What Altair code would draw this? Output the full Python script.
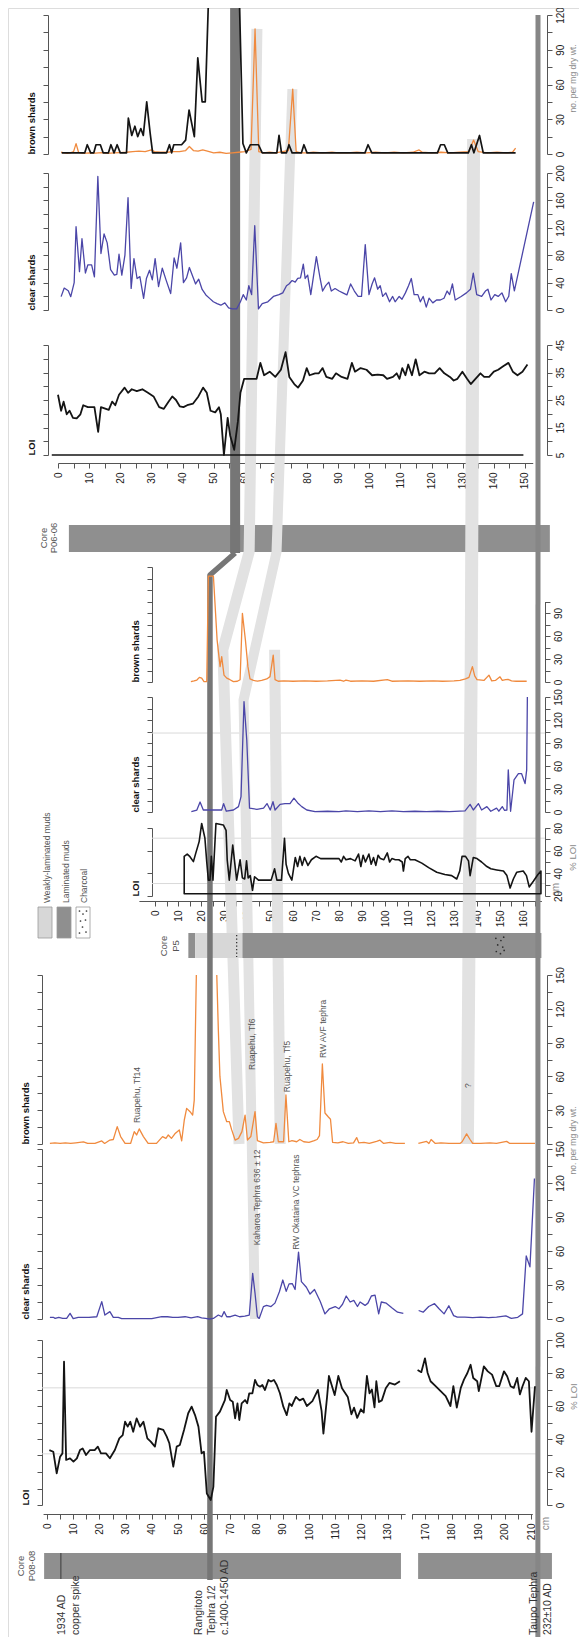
import json
import altair as alt
import pandas as pd

# ============================ DATA (depth cm, value) ============================
# ---- Core P06-06 ----
P06_BROWN = [(1,1.5),(2,1),(3,0.5),(4,1),(5,2),(5.8,9),(6.6,1.5),(8,0.5),(10,1),(12,0.8),(14,1.2),(16,0.5),(18,1),(20,1.2),(22,1.5),(24,2),(26,2.5),(28,2),(30,3.5),(31,2),(33,1.5),(35,1.5),(37,2),(39,2),(41,3),(42.2,6.5),(43.5,3),(45,2.5),(46.5,3.5),(48,2.5),(50,1),(52,1.5),(54,0.5),(56,1),(58,1.5),(60,2),(62,4),(63.3,108),(64.5,2),(66,1),(68,1.5),(70,1),(72,2),(74,3),(75.4,56),(76.5,2),(78,1),(80,1),(82,1.5),(85,1),(88,1.5),(90,1),(93,1),(96,1.5),(99,1),(102,1.5),(105,1),(108,1.5),(111,1),(114,1.5),(116,3.5),(117,1.5),(120,1),(123,1.5),(126,1),(129,1.5),(132,2),(133.5,12),(135,2),(138,1),(141,1.5),(144,1),(146,1.5),(147,5)]
P06_BLACK_1 = [(1.2,1),(3,1),(5,1),(7,1),(8.6,1),(9.4,8),(10.5,1),(11.5,1),(12.2,8),(13.6,8),(14.5,1),(16.2,1),(17,8),(18,1),(19,8),(20,1),(22,1),(22.6,31),(23.7,16),(24.7,24),(25.6,15),(26.6,22),(27.4,16),(28.5,45),(29.6,18),(30.4,1),(33,1),(34.9,1),(35.8,8),(36.5,1),(37.2,8),(39.7,8),(41,12),(42.1,38),(43.8,15),(44.9,83),(46.3,45),(47.3,45),(48.3,130)]
P06_BLACK_2 = [(58.3,130),(59.4,9),(60.5,1),(61.8,8),(64.4,8),(65.6,1),(70.3,1),(71,16),(71.8,1),(73.4,1),(74.2,8),(75.2,1),(78.2,1),(79,8),(80,1),(98.6,1),(99.6,8),(100.8,1),(121.9,1),(122.9,8),(124.1,8),(125.2,1),(131.8,1),(132.8,8),(133.6,1),(135.4,16),(136.6,1),(147,1)]
P06_CLEAR = [(1.0,19.5),(2.0,32),(3.3,28),(4.1,19.5),(5.2,40),(5.8,121.6),(6.9,56),(7.7,104),(8.8,54),(9.6,66),(10.8,66),(11.7,48.5),(12.8,195),(13.8,82.5),(14.8,111),(15.8,98),(16.9,59),(18.1,51),(18.9,52),(19.6,81.4),(20.5,51),(21.5,80),(22.5,164),(23.5,31.6),(24.4,75),(25.4,46),(26.3,48.7),(27.5,17),(28.4,46),(29.4,58),(30.3,44),(31.2,75),(32.3,34),(33.5,61),(34.7,44),(36.2,24),(37.3,76),(38.2,61),(39.4,98),(40.3,40),(41.3,47),(42.2,62),(43.2,50),(44.2,38),(45.2,45),(46.3,30),(47.5,22),(48.7,17),(49.9,12),(51.1,9.4),(52.3,7),(53.6,10.4),(54.8,3),(56,1.6),(57.4,1.6),(58.6,12),(59.5,22.4),(60.5,14.6),(61.3,35.5),(62.2,22.4),(63.2,123),(64.4,1.6),(65.6,9.4),(67.4,12),(69.2,19.8),(71,22.4),(72.2,25),(73.4,35.5),(74.2,38),(75.2,43),(76.2,40.7),(77,46),(77.9,47),(78.8,67),(79.4,46),(80.2,51),(81.2,22.4),(83,78),(84.2,46),(85,27.7),(86,35.5),(87,40.7),(87.8,27.7),(89,31.3),(90.3,27.7),(91.5,25),(92.8,22),(94,38),(95.2,27.7),(96.4,19.8),(97.5,19.8),(98.7,95.5),(99.9,22.4),(100.9,38),(101.7,47),(102.7,30.3),(103.5,35.5),(104.3,19.8),(105.3,25),(106.5,12),(107.5,19.8),(108.3,12),(109.6,19.8),(110.5,15.7),(111.6,25),(112.6,35.5),(113.5,46),(114.4,22.4),(115.6,22.4),(116.4,12),(117.3,19.8),(118.3,4.2),(119.2,17.2),(120.4,10.4),(121.6,14.6),(122.8,14.6),(124,17.2),(125,27.7),(125.8,22.4),(126.7,38),(127.6,14.6),(129.5,19.8),(131.2,25),(132.5,30.3),(133.4,53.8),(134.5,22.4),(136.1,19.8),(137.3,27.7),(138.1,30.3),(139.1,14.6),(140.3,22.4),(141.4,19.8),(142.6,25),(143.8,12),(144.8,20),(145.6,53),(146.6,28),(152.8,158)]
P06_LOI = [(0.0,26.9),(1.0,21.1),(1.8,24.4),(2.8,19.8),(3.7,21.1),(4.8,18.5),(6.0,18.3),(7.2,19.8),(8.1,23.1),(9.6,22.4),(11.7,22.4),(12.9,13.4),(13.8,22.4),(16.3,21.4),(17.4,24.4),(18.4,23.1),(19.6,26.9),(21.4,29.5),(22.5,27.6),(23.7,28.9),(25.3,28.2),(27.1,28.9),(28.9,27.6),(30.7,26.3),(32.5,22.4),(34.0,21.8),(35.5,24.4),(36.7,26.3),(37.9,25),(39.1,22.7),(40.3,22.4),(41.5,23.1),(43.4,23.7),(45.1,26.3),(46.6,29.5),(47.8,27.6),(49.0,21.1),(50.5,20.5),(51.7,22.4),(52.3,19.8),(53.3,5),(54.5,18.5),(55.3,12.1),(56.6,6.9),(57.8,17.3),(58.6,27.6),(59.8,32.7),(61.9,32.7),(63.8,32.7),(65.0,38.5),(66.2,34),(68.0,35.3),(69.8,33.4),(71.6,36),(73.1,42.4),(74.3,33.4),(75.9,30.8),(77.1,29.5),(78.7,32.1),(79.9,36.6),(80.8,34),(82.6,34.7),(83.8,34.7),(85.0,36.6),(86.2,33.4),(88.1,32.7),(89.3,34.7),(91.1,33.4),(93.0,32.7),(94.4,38.5),(95.4,35.3),(97.2,36.6),(99.1,36),(100.9,34),(102.7,34.2),(104.5,34),(105.7,32.7),(107.6,33.4),(108.8,34.7),(109.7,32.7),(110.6,36.6),(111.6,34),(112.5,37.9),(113.7,34),(114.9,39.8),(116.1,34),(117.7,35.3),(119.2,34.7),(121.0,34.7),(122.6,36.6),(124.1,34.7),(125.9,33.4),(127.1,32.1),(128.3,32.7),(129.9,35.3),(131.4,32.7),(132.6,30.8),(134.1,32.7),(135.7,34.7),(136.9,33.4),(138.5,33.4),(140.0,35.3),(141.4,36),(143.0,37.3),(144.7,38.5),(146.1,35.3),(147.6,34),(149.2,35.3),(150.8,37.9)]
P06_LOI_BASE = [(-2, 149.5, 5)]

# ---- Core P5 ----
P5_BROWN = [(15.6,0.5),(17,1.5),(18.2,2.6),(19.3,6),(20.3,5),(21.3,0.5),(22.5,0.5),(23.2,138),(25.4,138),(27,55),(28.3,20),(29,33),(30,9),(31.2,5),(32.6,3),(34.1,0.5),(35.8,1),(37,3),(38,89.5),(39.3,55),(40.4,20),(41.3,4),(42.8,2),(44.6,1),(46.4,2),(48.6,4),(50,7),(51.4,35),(52.2,3),(53.6,1),(56,1.5),(60,1),(65,1.5),(70,1),(75,1.5),(80.4,2.5),(82,1),(83,2.5),(85,1),(90,1.5),(95,1),(101,3),(103,1),(110,1.5),(115,1),(121,1.5),(125,1),(130,1.5),(132.6,2),(135,4),(136.5,6),(138,20),(139,8),(140,3),(143,2),(145.2,9),(146.4,1.5),(148,2),(150,6.8),(151,2),(152.5,3),(153.5,3.5),(155,1.5),(157,1),(161.6,1)]
P5_CLEAR = [(15.8,0.5),(18.2,2.6),(19.6,13),(21,2.6),(24,2.6),(29,2.6),(29.8,11),(31,1),(34.1,2.6),(36.3,7),(37.4,20),(38.7,144),(39.9,94),(41.1,5),(44.3,3.5),(47.2,5),(48.7,11),(50.1,2.6),(51.3,13.4),(52.2,2.6),(54.4,10),(56.5,11),(58.7,11),(60.4,18),(62.3,11),(63.8,7),(66,2.6),(69.6,0.5),(75,1),(80,0.5),(83,1.5),(88,0.5),(93,1.5),(98,0.5),(103,1.5),(108,0.5),(113,1),(118,0.5),(123,1),(128,0.5),(134.8,1.5),(137,10),(138.4,2.6),(140.6,11),(142,2.6),(144.3,7),(146,1),(148.5,5),(149.5,1),(151,7),(152,2),(153,2.6),(153.6,55),(154.6,1),(156.1,42),(158,50),(159.4,50),(160.9,37),(161.6,55),(161.9,150)]
P5_LOI = [(12.7,55),(14,57),(15.2,54.7),(16.7,50.3),(17.7,57.6),(19.2,68),(20.3,84),(21.7,71),(22.5,50),(23.2,34),(23.9,34),(24.5,55),(25.2,34),(26.5,84),(29.7,82.7),(30.9,78),(31.4,51.8),(32.3,34),(33.8,65),(35.5,34),(37,52),(38,36),(39,35),(39.8,51),(40.5,36),(41.4,38),(42.4,25),(43.3,37),(45,34),(47,34),(49,34),(50.5,34),(52,44),(53,34),(55,34),(56.3,71),(57,48),(58,40),(59.5,34),(61,54),(62,46),(63,55),(64,47),(65,54),(66.5,47),(68,52),(70,55),(72,53),(74,53),(76,53),(78,53),(80,53),(81,50),(82,55),(83,52),(85,53),(87,51),(88.5,57),(89.5,46),(90.5,56),(91.5,50),(93,57),(94,48),(95,54),(96,47),(97,56),(98,53),(99.5,52),(101,58),(102,50),(103,53),(104.5,52),(106,52),(107.5,50),(108,42),(108.8,53),(110,55),(111,52),(113,52),(116,49),(119,45),(122.5,41),(126,39),(129,38),(131.2,35),(132.5,42),(133.5,55),(135,55),(136.3,51),(137,38),(138.4,54),(140,53),(142,50),(144.3,46),(146,44),(148.6,43),(151.5,42),(153,38),(154.4,27),(155.8,35),(157.3,41),(160.1,42),(161.5,38),(162.7,28),(164.5,33),(166.5,39),(167.8,42)]
P5_LOI_BASE = 22

# ---- Core P08-08 (axis broken between 136 and 165 cm) ----
P08_BROWN_1 = [(1.1,0.5),(3,1),(5,0.5),(7,1),(9,0.5),(11,1),(13.9,1.8),(15.5,0.5),(18.3,0.5),(20.9,2.7),(22,0.5),(24,3.5),(25.3,4),(26.8,15.4),(28.1,6.6),(29.8,0.5),(31.9,0.5),(33.3,11),(34.2,8),(35.2,13.4),(36.8,6.6),(38.6,0.5),(41.8,0.5),(44.1,6.6),(45.4,5),(46.3,8),(47.5,5),(48.8,9),(50.5,12.5),(51.4,2.7),(52.4,21.3),(53.3,31.6),(54.6,28.7),(55.6,25.7),(56.2,39),(57.0,150)]
P08_BROWN_2 = [(64.8,150),(65.4,101),(66,60),(67.3,28.7),(68.6,19.8),(69.6,19.8),(70.5,12.5),(71.8,3.5),(73.1,5),(74.4,11),(75.6,25.7),(76.5,3.5),(77.8,6.6),(79.4,28.7),(80.3,3),(82.6,1),(85.1,1.5),(86.5,2),(87.4,18.3),(88.3,2),(90.3,2),(91.2,43.5),(92.3,2),(93.5,3),(95.3,2),(96.5,4),(98,2),(100,1.5),(102,3),(103.1,4),(104,7.4),(105.1,71),(106.1,27.5),(107.4,24),(108.2,22),(109,1.5),(111,1),(113,2),(115,0.5),(117,1),(118.2,5.7),(119,1),(121,1.5),(123,0.5),(125.8,2.3),(127.1,3.4),(128.5,0.5),(131,1.5),(133,0.5),(136.6,0.5)]
P08_BROWN_3 = [(167.5,0.5),(170.6,2.3),(171.5,0.5),(172.3,4),(173.9,0.5),(176,1),(179,0.5),(183.2,0.5),(184,2),(185.7,9),(187,4),(188,0.5),(191,0.5),(194.5,1),(197,0.5),(200.8,2.3),(202,0.5),(206,0.5),(211.5,0.5)]
P08_CLEAR_1 = [(1.1,1.5),(2.4,1.5),(3.1,0.6),(4.5,1.5),(6,0.6),(7.5,0.6),(8.8,5),(10,0.3),(11.9,1.5),(14,1.5),(16,1.5),(19,2),(20.9,15.3),(22.1,3.5),(24,6.5),(25.3,1.5),(27.2,1.5),(28.5,0.3),(32.9,0.3),(36,0.3),(40,0.3),(43.8,2),(46,2),(48,1.5),(50,1.5),(52.7,2),(55,1),(57.5,2),(59,1),(60.5,0.5),(62,0),(63.5,0.5),(65.4,3.5),(66.7,2),(67.6,6.5),(68.6,2),(70,2),(71.8,3.5),(73.5,2),(75.5,2.5),(77.2,3.5),(78.5,40.3),(79.4,22.7),(80.3,2),(81,0.5),(82.6,10.9),(83.8,12),(85.5,11),(87,14),(88.7,24),(90,34.4),(91.3,24.4),(92.4,31),(93.6,31.3),(94.7,26),(96,59),(97.1,33),(99,28),(100.4,22),(102.1,26),(104.3,15.4),(106.1,4.5),(107.8,9),(110,11),(111.4,9),(112.8,13),(114.2,20.3),(115.7,15),(117.1,16.5),(118.5,11),(119.5,15),(121.4,12),(122.5,14),(123.8,20.3),(125.2,21),(126.6,4.5),(127.6,15),(129.5,14),(131.6,10),(133.8,6),(136,5)]
P08_CLEAR_2 = [(167.6,7.5),(169.3,6),(171.4,11),(173.6,13.5),(175.3,9),(177.2,4.5),(179,11.7),(180.8,3),(182.2,1.6),(185,1.6),(188,1.2),(191,1.6),(194,1.2),(197,1.6),(200.5,2.7),(202.6,0.5),(205,1.5),(206.8,4.5),(208.2,55.6),(209.6,46),(211.3,124)]
P08_LOI_1 = [(0.9,33.3),(2.4,32.3),(3.7,19.2),(5,29.3),(5.9,31.3),(6.5,86.9),(7.3,27.3),(8.8,28.3),(10.1,26.3),(11.4,28.3),(12.6,33.3),(13.6,34.3),(14.9,30.3),(16.4,33.3),(18.2,33.3),(19.4,35.4),(20.6,31.3),(22.5,31.3),(24,28.3),(25.9,33.3),(27.6,40.4),(28.9,42.4),(29.8,50.5),(30.8,47.5),(31.8,50.5),(32.9,44.4),(34.2,52.5),(35.5,47.5),(36.8,50.5),(38.3,40.4),(39.6,38.4),(41.2,35.4),(42.5,46.5),(44.4,45.5),(45.7,41.4),(46.7,37.4),(48.2,23.2),(49.5,35.4),(50.7,36.4),(52.3,45.5),(53.9,55.6),(55.2,59.6),(56.5,54.5),(57.8,47.5),(59,31.3),(59.9,32.3),(61,7),(62.5,3),(63.5,11),(64.5,53.5),(66,56.6),(67.9,63.6),(68.6,69.7),(69.9,63.6),(70.9,62.6),(71.8,52.5),(72.7,61.6),(73.4,51.5),(74.3,61.6),(75.6,63.6),(76.4,61.6),(77.2,67.7),(78.4,67.7),(79.4,75.8),(80.3,72.7),(81.3,71.7),(82.2,72.7),(83.2,69.7),(84.5,75.8),(85.5,74.8),(86.6,75.8),(87.7,72.7),(88.9,67.7),(90.2,59.6),(91.5,54.5),(92.5,61.6),(93.4,60),(95,65.5),(96.4,63.4),(97.8,64.5),(99.2,60),(101.3,63),(103.4,69.8),(104.8,57),(105.5,43.3),(106.9,65.5),(107.6,78.2),(109.8,66.6),(111.2,78.2),(112.6,70.8),(114.8,65.5),(116.2,55),(117.2,59),(118.4,52.8),(119.8,58),(120.9,56),(122.1,78.2),(123.1,67.7),(124,70),(125,59.2),(125.7,75),(126.7,62.4),(127.8,63.4),(129.3,70.8),(130.7,74),(132.8,73),(134.7,75)]
P08_LOI_2 = [(167.2,81.8),(168.6,80.5),(170,88.9),(171,80),(172.1,75),(174,72),(175.9,69),(177.8,66),(179.6,60),(180.7,72),(182,59),(183.5,71),(184.7,76),(186,80),(187.2,85),(188.2,77),(189.7,75),(190.3,69),(192.2,84),(193.7,81),(195.3,79),(196.9,72),(198,72),(199.8,81),(201,78),(202.3,72),(203.5,71),(204.8,77),(205.8,67),(206.8,72),(208,77),(209.2,75),(210.2,44.4),(211.5,72)]

# ---- core lithology (depth from, depth to, fill) ----
P06_CORE = [(3.5, 158, "#8f8f8f")]
P5_CORE = [(14.5, 17.5, "#8f8f8f"), (17.5, 38, "#d7d7d7"), (38, 168, "#8f8f8f")]
P08_CORE_1 = [(-1.1, 135.1, "#8f8f8f")]
P08_CORE_2 = [(167.4, 217.9, "#8f8f8f")]
P5_CHARCOAL = [(148.2, 0.15), (150.4, 0.25), (151.6, 0.1), (149.0, 0.45), (151.2, 0.55), (148.4, 0.75), (150.2, 0.85), (151.8, 0.7)]
COPPER_SPIKE_DEPTH = 5.3   # P08-08, 1934 AD
P5_DOTTED_DEPTH = 35.5

# ---- tephra correlations: (core section, depth, panel, value on that panel) ----
BAND_TF6 = [("A", 63.9, "brownA", 108), ("A", 61.4, "fig", 552), ("B", 29.5, "brownB", 42), ("C1", 73.3, "brownC", 0)]
BAND_KAHAROA = [("A", 75.3, "brownA", 56), ("A", 70.2, "fig", 552), ("B", 38.5, "clearB", 146), ("C1", 79.4, "clearC", 0)]
BAND_TF5 = [("B", 52.0, "brownB", 42), ("C1", 89.0, "brownC", 0)]
BAND_Q = [("A", 133.5, "brownA", 13), ("B", 137.5, "brownB", 30), ("C2", 186.0, "brownC", 0)]
RANGITOTO_TOP = [("A", 56.9, "fig", 0), ("A", 56.9, "fig", 553)]
RANGITOTO_LOW = [("A", 56.9, "fig", 553), ("B", 23.9, "fig", 575), ("C1", 62.2, "fig", 1580)]
TAUPO = [("A", 154.2, "fig", 15), ("C2", 212.6, "fig", 1645)]

TEPHRA_LABELS = [("Ruapehu, Tf14", "C1", 34.4, "brownC", 18.6), ("Ruapehu, Tf6", "C1", 78.2, "brownC", 65.7),
                 ("Ruapehu, Tf5", "C1", 91.6, "brownC", 46), ("RW AVF tephra", "C1", 105.3, "brownC", 76.3),
                 ("?", "C2", 186.2, "brownC", 49.7), ("Kaharoa Tephra 636 \u00b1 12", "C1", 80.2, "clearC", 65),
                 ("RW Okataina VC tephras", "C1", 95.0, "clearC", 61)]

# ============================ LAYOUT ============================
W, H, M = 571, 1629, 8
def P(v):
    return v - M

SECTION = {"A": (0.0, 58.0, 3.113), "B": (0.0, 155.0, 2.3), "C1": (0.0, 47.0, 2.62), "C2": (170.0, 425.0, 2.65)}
def xpage(sec, d):
    d0, p0, k = SECTION[sec]
    return p0 + k * (d - d0)
def xscale(sec, lo, hi):
    return alt.Scale(domain=[lo, hi], range=[P(xpage(sec, lo)), P(xpage(sec, hi))], nice=False, zero=False)
XDOM = {"A": (0, 152.5), "B": (-7, 168), "C1": (-1.5, 136.7), "C2": (165, 210.5)}
SX = {k: xscale(k, *v) for k, v in XDOM.items()}

PANEL = {
    "brownA": (0, 120, 154, 15), "clearA": (0, 200, 310, 173), "loiA": (5, 45, 455, 345),
    "brownB": (0, 150, 682, 567), "brownBr": (0, 105, 682, 601.5), "clearB": (0, 150, 812, 697), "loiB": (20, 80, 896, 828),
    "brownC": (0, 150, 1144, 975), "clearC": (0, 150, 1319, 1149), "loiC": (0, 100, 1505, 1340),
}
def ypage(panel, v):
    v0, v1, y0, y1 = PANEL[panel]
    return y0 + (y1 - y0) * (v - v0) / (v1 - v0)
def yscale(panel):
    v0, v1, y0, y1 = PANEL[panel]
    return alt.Scale(domain=[v0, v1], range=[P(y0), P(y1)], nice=False, zero=False)

FX = alt.Scale(domain=[0, 587], range=[-M, 587 - M], nice=False, zero=False)
FY = alt.Scale(domain=[0, 1645], range=[-M, 1645 - M], nice=False, zero=False)

ORANGE, BLUE, BLACK = "#f08a3e", "#4b46a8", "#141414"
AXC = "#555555"
FONT = "Liberation Sans"

def node_xy(n):
    sec, d, panel, v = n
    return xpage(sec, d), (v if panel == "fig" else ypage(panel, v))

layers = []

# ---------------- light horizontal reference lines ----------------
for panel, vals, xl, xr in [("clearB", [103], 152, 545), ("loiB", [71, 31], 152, 545), ("loiC", [71, 31], 42, 536)]:
    df = pd.DataFrame({"v": vals, "x0": xl, "x1": xr})
    layers.append(alt.Chart(df).mark_rule(color="#d9d9d9", strokeWidth=1).encode(
        x=alt.X("x0:Q", scale=FX, axis=None), x2="x1:Q", y=alt.Y("v:Q", scale=yscale(panel), axis=None)))

# ---------------- core bars ----------------
def bar_layer(rows, sec, y0, y1):
    df = pd.DataFrame(rows, columns=["d0", "d1", "c"])
    df["y0"] = y0
    df["y1"] = y1
    return alt.Chart(df).mark_rect().encode(
        x=alt.X("d0:Q", scale=SX[sec], axis=None), x2="d1:Q",
        y=alt.Y("y0:Q", scale=FY, axis=None), y2="y1:Q",
        color=alt.Color("c:N", scale=None))

layers.append(bar_layer(P06_CORE, "A", 525, 552))

# ---------------- correlation bands ----------------
def path_layer(nodes, color, width, cap="butt"):
    pts = [node_xy(n) for n in nodes]
    df = pd.DataFrame(pts, columns=["x", "y"])
    df["i"] = range(len(df))
    return alt.Chart(df).mark_line(color=color, strokeWidth=width, strokeCap=cap, strokeJoin="round").encode(
        x=alt.X("x:Q", scale=FX, axis=None), y=alt.Y("y:Q", scale=FY, axis=None), order="i:Q")

BAND = "#e2e2e2"
layers.append(path_layer(BAND_TF6, BAND, 11))
layers.append(path_layer(BAND_KAHAROA, BAND, 10))
layers.append(path_layer(BAND_TF5, BAND, 11))
layers.append(path_layer(BAND_Q, BAND, 13))

layers.append(bar_layer(P5_CORE, "B", 933, 958))
layers.append(bar_layer(P08_CORE_1, "C1", 1553, 1579))
layers.append(bar_layer(P08_CORE_2, "C2", 1553, 1579))

# copper spike line and P5 dotted boundary, charcoal
layers.append(alt.Chart(pd.DataFrame({"d": [COPPER_SPIKE_DEPTH], "y0": [1553], "y1": [1579]})).mark_rule(color="#3a3a3a", strokeWidth=1).encode(
    x=alt.X("d:Q", scale=SX["C1"], axis=None), y=alt.Y("y0:Q", scale=FY, axis=None), y2="y1:Q"))
layers.append(alt.Chart(pd.DataFrame({"d": [P5_DOTTED_DEPTH], "y0": [935], "y1": [957]})).mark_rule(color="#333333", strokeWidth=1.3, strokeDash=[1.3, 2.2]).encode(
    x=alt.X("d:Q", scale=SX["B"], axis=None), y=alt.Y("y0:Q", scale=FY, axis=None), y2="y1:Q"))
ch = pd.DataFrame(P5_CHARCOAL, columns=["d", "f"])
ch["y"] = 935 + ch["f"] * 22
layers.append(alt.Chart(ch).mark_circle(color="#2e2e2e", size=3, opacity=1).encode(
    x=alt.X("d:Q", scale=SX["B"], axis=None), y=alt.Y("y:Q", scale=FY, axis=None)))

# ---------------- dated marker horizons ----------------
DARK = "#767676"
layers.append(path_layer(RANGITOTO_TOP, DARK, 10))
layers.append(path_layer(RANGITOTO_LOW, DARK, 5.5))
layers.append(path_layer(TAUPO, "#868686", 5))

# ---------------- legend ----------------
LEGEND_BOXES = [(38, 52, "#d7d7d7"), (57, 71, "#8f8f8f"), (76, 90, "#ffffff")]
lg = pd.DataFrame(LEGEND_BOXES, columns=["x0", "x1", "c"])
lg["y0"] = 907
lg["y1"] = 938
layers.append(alt.Chart(lg).mark_rect(stroke="#9a9a9a", strokeWidth=0.8).encode(
    x=alt.X("x0:Q", scale=FX, axis=None), x2="x1:Q", y=alt.Y("y0:Q", scale=FY, axis=None), y2="y1:Q",
    color=alt.Color("c:N", scale=None)))
lgd = pd.DataFrame({"x": [79.5, 83, 86.5, 80.5, 85.5, 82.5, 79.5, 86], "y": [911, 914, 911, 921, 920, 927, 933, 932]})
layers.append(alt.Chart(lgd).mark_circle(color="#333333", size=3, opacity=1).encode(
    x=alt.X("x:Q", scale=FX, axis=None), y=alt.Y("y:Q", scale=FY, axis=None)))

# ---------------- data series ----------------
def line_layer(points, sec, panel, color, width):
    df = pd.DataFrame(points, columns=["d", "v"])
    df["i"] = range(len(df))
    return alt.Chart(df).mark_line(color=color, strokeWidth=width, strokeJoin="round").encode(
        x=alt.X("d:Q", scale=SX[sec], axis=None), y=alt.Y("v:Q", scale=yscale(panel), axis=None), order="i:Q")

base = pd.DataFrame(P06_LOI_BASE, columns=["d0", "d1", "v"])
layers.append(alt.Chart(base).mark_rule(color=BLACK, strokeWidth=1.3).encode(
    x=alt.X("d0:Q", scale=SX["A"], axis=None), x2="d1:Q", y=alt.Y("v:Q", scale=yscale("loiA"), axis=None)))
layers.append(line_layer(P06_BROWN, "A", "brownA", ORANGE, 1.3))
layers.append(line_layer(P06_BLACK_1, "A", "brownA", BLACK, 1.7))
layers.append(line_layer(P06_BLACK_2, "A", "brownA", BLACK, 1.7))
layers.append(line_layer(P06_CLEAR, "A", "clearA", BLUE, 1.3))
layers.append(line_layer(P06_LOI, "A", "loiA", BLACK, 1.8))

layers.append(line_layer(P5_BROWN, "B", "brownB", ORANGE, 1.3))
layers.append(line_layer(P5_CLEAR, "B", "clearB", BLUE, 1.3))
loib = pd.DataFrame(P5_LOI, columns=["d", "v"])
layers.append(alt.Chart(loib).mark_area(fillOpacity=0, stroke=BLACK, strokeWidth=1.6, strokeJoin="round").encode(
    x=alt.X("d:Q", scale=SX["B"], axis=None), y=alt.Y("v:Q", scale=yscale("loiB"), axis=None),
    y2=alt.datum(P5_LOI_BASE)))

layers.append(line_layer(P08_BROWN_1, "C1", "brownC", ORANGE, 1.3))
layers.append(line_layer(P08_BROWN_2, "C1", "brownC", ORANGE, 1.3))
layers.append(line_layer(P08_BROWN_3, "C2", "brownC", ORANGE, 1.3))
layers.append(line_layer(P08_CLEAR_1, "C1", "clearC", BLUE, 1.3))
layers.append(line_layer(P08_CLEAR_2, "C2", "clearC", BLUE, 1.3))
layers.append(line_layer(P08_LOI_1, "C1", "loiC", BLACK, 1.8))
layers.append(line_layer(P08_LOI_2, "C2", "loiC", BLACK, 1.8))

# ---------------- axes ----------------
def ticks(lo, hi, step):
    out, v = [], lo
    while v <= hi + 1e-9:
        out.append(round(v, 6))
        v += step
    return out

def left_axis(panel, xpg, tk, title):
    return alt.Axis(orient="left", offset=-P(xpg), values=tk, labels=False, tickSize=5, tickColor=AXC,
                    domainColor=AXC, grid=False, title=title, titleAngle=270, titleAlign="left",
                    titleBaseline="bottom", titleX=-12, titleY=P(PANEL[panel][2]), titleFontSize=9.5,
                    titleFontWeight="bold", titleColor="#111111", titleFont=FONT)

def right_axis(xpg, tk, labs, title=None, tx=22, ty=0, tsize=8.5):
    kw = dict(orient="right", offset=P(xpg) - W, values=tk,
              labelExpr="indexof(%s, datum.value) >= 0 ? datum.label : ''" % json.dumps(labs),
              labelAngle=270, labelAlign="center", labelBaseline="top", labelPadding=3, labelFontSize=10,
              labelColor="#222222", labelFlush=False, labelOverlap=False, labelFont=FONT,
              tickSize=5, tickColor=AXC, domainColor=AXC, grid=False)
    if title:
        kw.update(title=title, titleAngle=270, titleAlign="center", titleBaseline="top", titleX=tx,
                  titleY=P(ty), titleFontSize=tsize, titleColor="#8a8a8a", titleFontWeight="normal", titleFont=FONT)
    else:
        kw["title"] = None
    return alt.Axis(**kw)

def depth_axis(ypg, tk, title=None, tx=0, ty=0):
    kw = dict(orient="bottom", offset=P(ypg) - H, values=tk,
              labelExpr="datum.value % 10 == 0 ? datum.label : ''", labelAngle=270, labelAlign="right",
              labelBaseline="middle", labelPadding=4, labelFontSize=10, labelColor="#222222", labelFlush=False,
              labelOverlap=False, labelFont=FONT, tickSize=5, tickColor=AXC, domainColor=AXC, grid=False)
    if title:
        kw.update(title=title, titleAngle=270, titleAlign="center", titleBaseline="middle", titleX=P(tx),
                  titleY=ty, titleFontSize=10, titleColor="#8a8a8a", titleFontWeight="normal", titleFont=FONT)
    else:
        kw["title"] = None
    return alt.Axis(**kw)

def yaxis_layer(panel, axis):
    return alt.Chart(pd.DataFrame({"v": [PANEL[panel][0]]})).mark_point(opacity=0).encode(
        y=alt.Y("v:Q", scale=yscale(panel), axis=axis))

def xaxis_layer(sec, axis):
    return alt.Chart(pd.DataFrame({"d": [XDOM[sec][0]]})).mark_point(opacity=0).encode(
        x=alt.X("d:Q", scale=SX[sec], axis=axis))

# section P06-06
layers.append(yaxis_layer("brownA", left_axis("brownA", 48, ticks(0, 120, 15), "brown shards")))
layers.append(yaxis_layer("clearA", left_axis("clearA", 48, ticks(0, 200, 20), "clear shards")))
layers.append(yaxis_layer("loiA", left_axis("loiA", 48, ticks(5, 45, 5), "LOI")))
layers.append(yaxis_layer("brownA", right_axis(547, ticks(0, 120, 15), [0, 30, 60, 90, 120], "no. per mg dry wt.", 21, 78)))
layers.append(yaxis_layer("clearA", right_axis(547, ticks(0, 200, 20), [0, 40, 80, 120, 160, 200])))
layers.append(yaxis_layer("loiA", right_axis(547, ticks(5, 45, 5), [5, 15, 25, 35, 45])))
layers.append(xaxis_layer("A", depth_axis(463, ticks(0, 150, 5))))

# section P5
layers.append(yaxis_layer("brownB", left_axis("brownB", 152, ticks(0, 150, 15), "brown shards")))
layers.append(yaxis_layer("clearB", left_axis("clearB", 152, ticks(0, 150, 15), "clear shards")))
layers.append(yaxis_layer("loiB", left_axis("loiB", 152, ticks(20, 80, 20), "LOI")))
layers.append(yaxis_layer("brownBr", right_axis(545, ticks(0, 105, 15), [0, 30, 60, 90])))
layers.append(yaxis_layer("clearB", right_axis(545, ticks(0, 150, 15), [0, 30, 60, 90, 120, 150])))
layers.append(yaxis_layer("loiB", right_axis(545, ticks(20, 80, 10), [20, 40, 60, 80], "% LOI", 22, 857, 9.5)))
layers.append(xaxis_layer("B", depth_axis(901, ticks(0, 165, 5), "cm", 555, -12)))

# section P08-08
layers.append(yaxis_layer("brownC", left_axis("brownC", 42, ticks(0, 150, 15), "brown shards")))
layers.append(yaxis_layer("clearC", left_axis("clearC", 42, ticks(0, 150, 15), "clear shards")))
layers.append(yaxis_layer("loiC", left_axis("loiC", 42, ticks(0, 100, 10), "LOI")))
layers.append(yaxis_layer("brownC", right_axis(547, ticks(0, 150, 15), [30, 60, 90, 120, 150], "no. per mg dry wt.", 21, 1140)))
layers.append(yaxis_layer("clearC", right_axis(547, ticks(0, 150, 15), [0, 30, 60, 90, 120, 150])))
layers.append(yaxis_layer("loiC", right_axis(547, ticks(0, 100, 10), [0, 20, 40, 60, 80, 100], "% LOI", 21, 1396, 9.5)))
layers.append(xaxis_layer("C1", depth_axis(1514, ticks(0, 135, 5))))
layers.append(xaxis_layer("C2", depth_axis(1514, ticks(165, 210, 5), "cm", 545, 9)))

# ---------------- text ----------------
def text_layer(rows, size, color, align, baseline="middle", weight="normal"):
    df = pd.DataFrame(rows, columns=["t", "x", "y"])
    return alt.Chart(df).mark_text(angle=270, align=align, baseline=baseline, fontSize=size, color=color,
                                   fontWeight=weight, font=FONT).encode(
        x=alt.X("x:Q", scale=FX, axis=None), y=alt.Y("y:Q", scale=FY, axis=None), text="t:N")

teph = [(t, xpage(s, d), ypage(p, v)) for t, s, d, p, v in TEPHRA_LABELS]
layers.append(text_layer(teph, 8.5, "#555555", "left"))

CORE_LABELS = [("Core", 44, 538), ("P06-06", 54, 538), ("Core", 164, 946), ("P5", 176, 946), ("Core", 21, 1566), ("P08-08", 32, 1566)]
layers.append(text_layer(CORE_LABELS, 9.5, "#555555", "center"))
LEGEND_TEXT = [("Weakly-laminated muds", 47, 903), ("Laminated muds", 66, 903), ("Charcoal", 84, 903)]
layers.append(text_layer(LEGEND_TEXT, 8.5, "#555555", "left"))
EVENT_LABELS = [("1934 AD", 62, 1635), ("copper spike", 76, 1635), ("Rangitoto", 199, 1635), ("Tephra 1/2", 212, 1635),
                ("c.1400-1450 AD", 225, 1635), ("Taupo Tephra", 534, 1635), ("232\u00b110 AD", 548, 1635)]
layers.append(text_layer(EVENT_LABELS, 10.5, "#333333", "left"))

chart = alt.layer(*layers).resolve_scale(x="independent", y="independent").properties(
    width=W, height=H, autosize="none", padding=0
).configure_view(strokeWidth=0).configure(font=FONT, background="white")

chart.save("out.html", embed_options={"renderer": "svg", "actions": False})
